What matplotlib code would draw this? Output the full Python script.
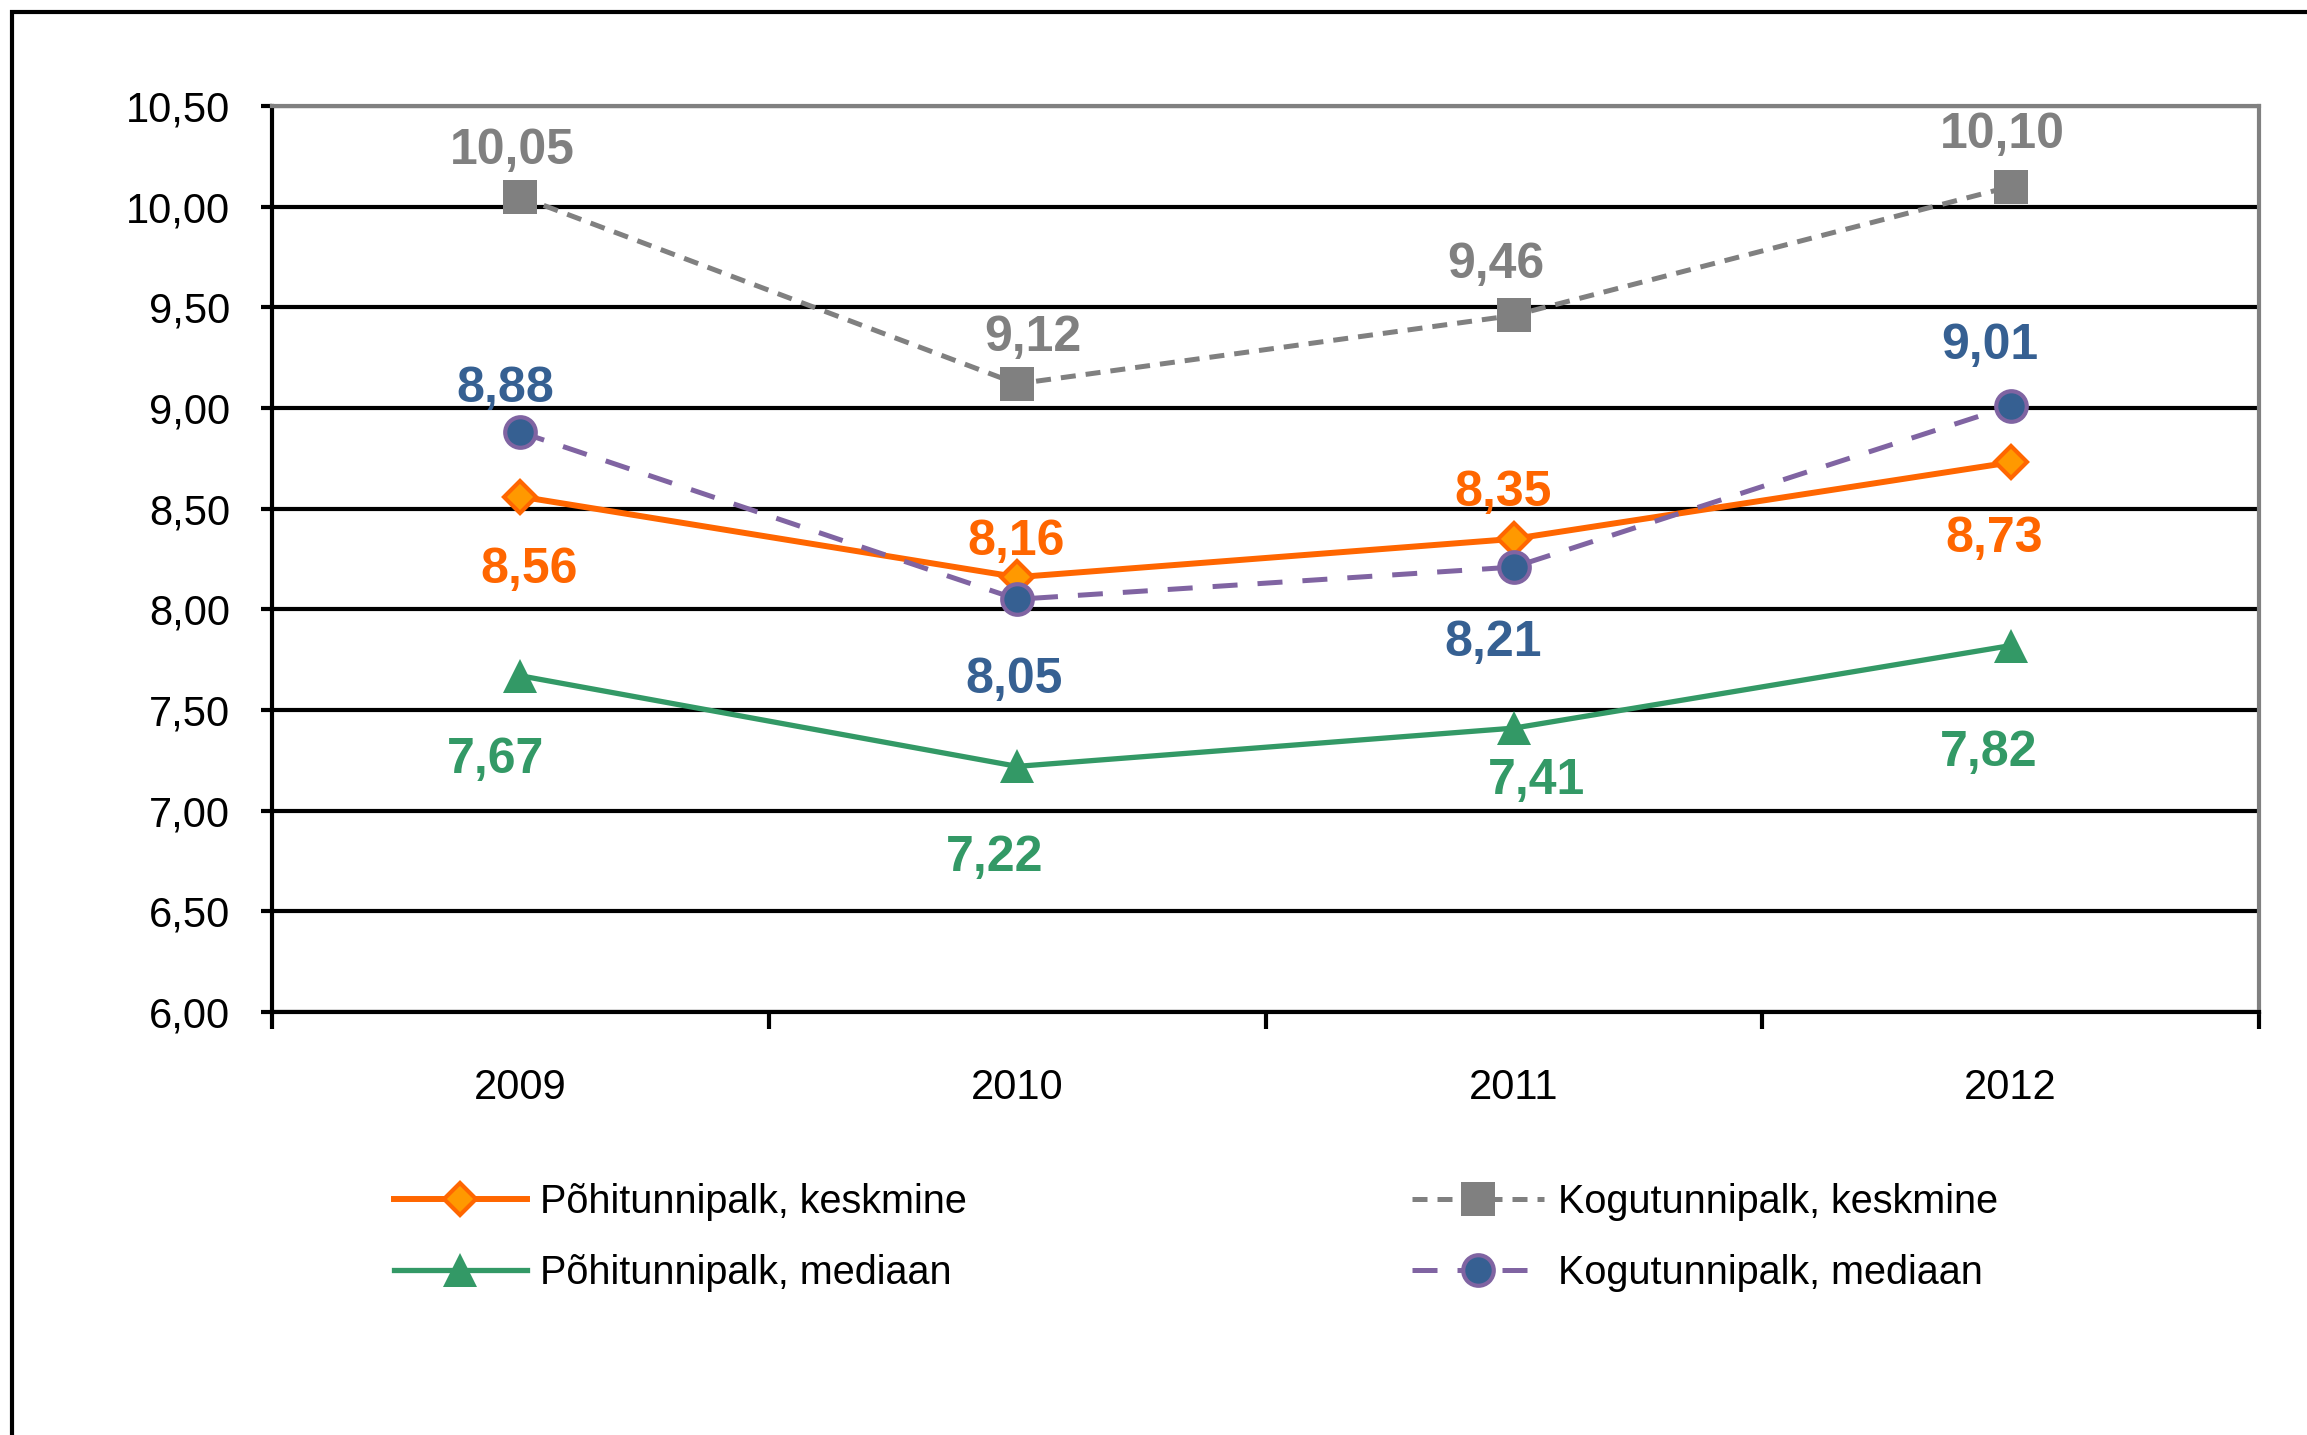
import numpy as np
import matplotlib.pyplot as plt
from matplotlib.patches import Rectangle

plt.rcParams["font.family"] = ["Liberation Sans", "DejaVu Sans"]

# -----------------------------
#  Data
# -----------------------------
years = ["2009", "2010", "2011", "2012"]
pohi_keskmine = [8.56, 8.16, 8.35, 8.73]
pohi_mediaan = [7.67, 7.22, 7.41, 7.82]
kogu_keskmine = [10.05, 9.12, 9.46, 10.10]
kogu_mediaan = [8.88, 8.05, 8.21, 9.01]

y_ticks = [6.0, 6.5, 7.0, 7.5, 8.0, 8.5, 9.0, 9.5, 10.0, 10.5]

# label offsets (points) for each value label
off_pk = [(6, -53), (-1, 25), (-8, 33), (-12, -55)]
off_pm = [(-18, -61), (-16, -66), (16, -38), (-16, -77)]
off_kk = [(-6, 33), (11, 33), (-13, 36), (-6, 37)]
off_km = [(-11, 31), (-2, -58), (-15, -55), (-15, 43)]

ORANGE = "#FF6600"
GREEN = "#339966"
GRAY = "#808080"
PURPLE = "#8064A2"
BLUE = "#366092"

def fmt(v):
    return f"{v:.2f}".replace(".", ",")

# -----------------------------
#  Plot
# -----------------------------
fig = plt.figure(figsize=(23.07, 14.35), dpi=100)
ax = fig.add_axes([272 / 2307, 1 - 1012 / 1435, (2259 - 272) / 2307, (1012 - 106) / 1435])

x = np.arange(len(years))

ax.plot(x, pohi_keskmine, color=ORANGE, lw=4.3, marker="D", ms=16,
        mfc="#FF9900", mec=ORANGE, mew=3, label="Põhitunnipalk, keskmine", zorder=4)
ax.plot(x, pohi_mediaan, color=GREEN, lw=3.8, marker="^", ms=25,
        mfc=GREEN, mec=GREEN, mew=0, label="Põhitunnipalk, mediaan", zorder=4)
ax.plot(x, kogu_keskmine, color=GRAY, lw=3.6, ls=(0, (3, 2)), marker="s", ms=24,
        mfc=GRAY, mec=GRAY, mew=0, label="Kogutunnipalk, keskmine", zorder=4)
ax.plot(x, kogu_mediaan, color=PURPLE, lw=3.6, ls=(0, (5, 4)), marker="o", ms=22,
        mfc=BLUE, mec=PURPLE, mew=3, label="Kogutunnipalk, mediaan", zorder=5)

for vals, offs, col in [(pohi_keskmine, off_pk, ORANGE), (pohi_mediaan, off_pm, GREEN),
                        (kogu_keskmine, off_kk, GRAY), (kogu_mediaan, off_km, BLUE)]:
    for xi, v, (dx, dy) in zip(x, vals, offs):
        ax.annotate(fmt(v), (xi, v), xytext=(dx, dy), textcoords="offset points",
                    ha="center", va="center", fontsize=36, fontweight="bold",
                    color=col, zorder=6)

ax.set_xlim(-0.5, 3.5)
ax.set_ylim(6.0, 10.5)

ax.set_yticks(y_ticks)
ax.set_yticklabels([fmt(t) for t in y_ticks], fontsize=30)
ax.tick_params(axis="y", direction="out", length=8, width=3, pad=22)

ax.set_xticks(np.arange(-0.5, 4.0, 1.0))
ax.set_xticklabels([])
ax.set_xticks(x, minor=True)
ax.set_xticklabels(years, minor=True, fontsize=30)
ax.tick_params(axis="x", which="major", direction="out", length=12, width=3)
ax.tick_params(axis="x", which="minor", length=0, pad=40)

ax.yaxis.grid(True, color="black", lw=3)
ax.set_axisbelow(True)

ax.spines["left"].set_linewidth(3)
ax.spines["bottom"].set_linewidth(3)
ax.spines["top"].set_color(GRAY)
ax.spines["right"].set_color(GRAY)
ax.spines["top"].set_linewidth(3)
ax.spines["right"].set_linewidth(3)

fig.legend(loc="upper left", bbox_to_anchor=(394 / 2307, 1 - 1183 / 1435),
           ncol=2, frameon=False, fontsize=28.5, handlelength=3.35,
           handletextpad=0.35, columnspacing=11.23, labelspacing=0.83,
           borderpad=0, borderaxespad=0)

# outer chart frame (right and bottom edges fall outside the picture)
fig.patches.append(Rectangle((12 / 2307, -0.1), 1.2, 1 - 12 / 1435 + 0.1,
                             transform=fig.transFigure, fill=False,
                             edgecolor="black", lw=3))

fig.savefig("out.png", dpi=100)
